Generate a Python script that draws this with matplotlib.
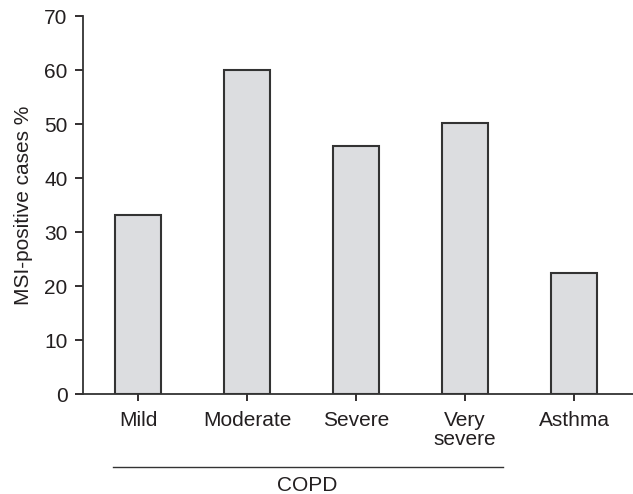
import matplotlib
matplotlib.use("Agg")
import matplotlib.pyplot as plt

categories = ["Mild", "Moderate", "Severe", "Very\nsevere", "Asthma"]
values = [33.1, 60.0, 46.0, 50.2, 22.5]
yticks = [0, 10, 20, 30, 40, 50, 60, 70]
group_label = "COPD"
ylabel = "MSI-positive cases %"

plt.rcParams["font.family"] = ["Liberation Sans", "DejaVu Sans"]
txt = "#231f20"
edge = "#333333"

fig = plt.figure(figsize=(6.33, 4.94), dpi=100)
ax = fig.add_axes([0.131, 0.2024, 0.869, 0.7652])
x = list(range(len(categories)))
ax.bar(x, values, width=0.42, color="#dcdde0", edgecolor=edge, linewidth=1.5, zorder=3)
ax.set_xlim(-0.505, 4.54)
ax.set_ylim(0, 70)
ax.set_yticks(yticks)
ax.set_xticks(x)
ax.set_xticklabels(categories, fontsize=15, color=txt, linespacing=1.0)
ax.tick_params(axis="y", labelsize=15, colors=txt, length=6, width=1.3, direction="out", pad=5)
ax.tick_params(axis="x", length=5, width=1.3, direction="out", pad=7, colors=txt)
for s in ["top", "right"]:
    ax.spines[s].set_visible(False)
for s in ["left", "bottom"]:
    ax.spines[s].set_color(edge)
    ax.spines[s].set_linewidth(1.3)
ax.set_ylabel(ylabel, fontsize=15, color=txt, labelpad=8)

# group line for COPD
line_y = (494 - 467) / 494
fig.add_artist(plt.Line2D([112.6 / 633, 502.6 / 633], [line_y, line_y], color=edge, linewidth=1.0))
fig.text(307 / 633, (494 - 485) / 494, group_label, ha="center", va="center", fontsize=15, color=txt)

fig.savefig("out.png", dpi=100)
